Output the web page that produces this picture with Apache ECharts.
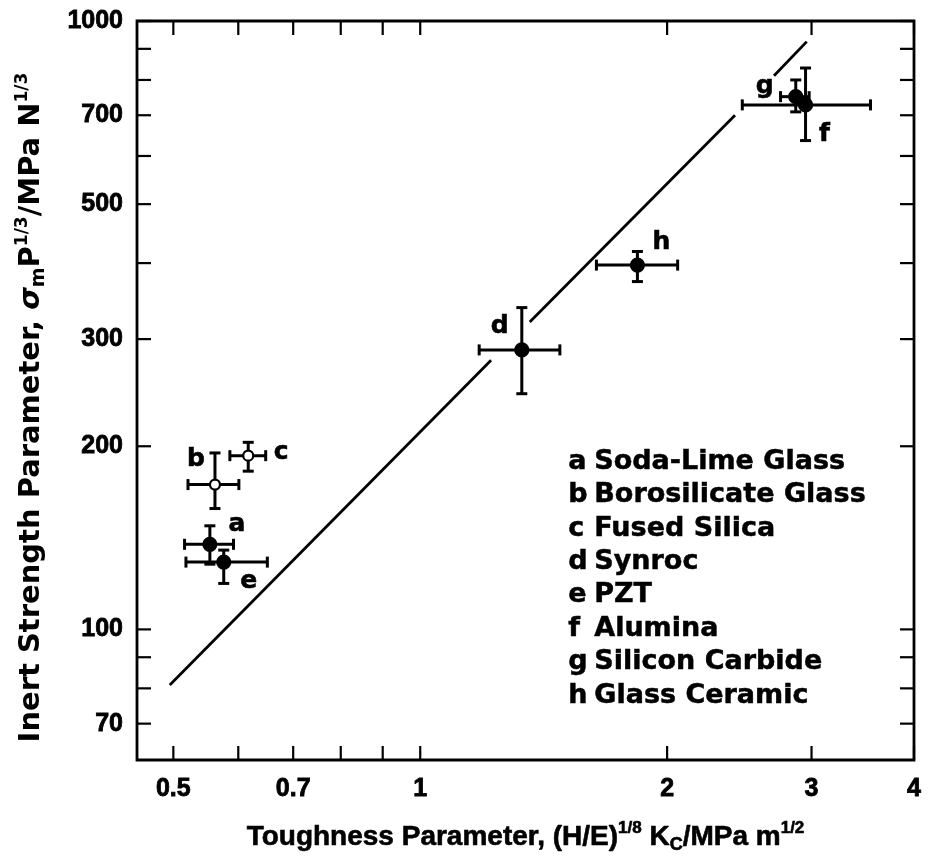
<!DOCTYPE html>
<html><head><meta charset="utf-8">
<script src="https://cdn.jsdelivr.net/npm/echarts@6/dist/echarts.min.js"></script>
<style>html,body{margin:0;padding:0;background:#fff}#c{width:930px;height:860px}</style>
</head><body><div id="c"></div>
<script>
// ---- data ----
const pointLetters = ['a','b','c','d','e','f','g','h'];
const materials = ['Soda-Lime Glass','Borosilicate Glass','Fused Silica','Synroc','PZT','Alumina','Silicon Carbide','Glass Ceramic'];
const toughness     = [0.554, 0.562, 0.617, 1.33, 0.576, 2.95, 2.87, 1.84];
const toughnessLow  = [0.516, 0.521, 0.586, 1.18, 0.518, 2.47, 2.75, 1.64];
const toughnessHigh = [0.592, 0.601, 0.648, 1.48, 0.651, 3.54, 2.98, 2.06];
const strength      = [138, 173, 193, 288, 129, 728, 751, 397];
const strengthLow   = [128, 158, 182, 244, 119, 636, 709, 373];
const strengthHigh  = [148, 195, 203, 338, 135, 837, 800, 418];
const openSymbol    = [false, true, true, false, false, false, false, false];
const fitSegments = [
  [[0.495, 81], [1.22, 277]],
  [[1.36, 320], [2.42, 700]],
  [[2.70, 813], [2.96, 925]]
];
const xTickValues = [0.5, 0.6, 0.7, 0.8, 0.9, 1, 2, 3, 4];
const xTickLabels = ['0.5', '', '0.7', '', '', '1', '2', '3', '4'];
const yTickValues = [70, 80, 90, 100, 200, 300, 400, 500, 600, 700, 800, 900, 1000];
const yTickLabels = ['70', '', '', '100', '200', '300', '', '500', '', '700', '', '', '1000'];

// ---- layout / style ----
const X_MIN = 0.4515, X_MAX = 4, Y_MIN = 61, Y_MAX = 1000;
const FONT = '"Liberation Sans", Arial, Helvetica, sans-serif';
const WIDE = '"DejaVu Sans", "Liberation Sans", sans-serif';
const labelOffsets = [[27,-20],[-19,-25],[33,-3],[-22,-23],[25,19],[19,30],[-31,-10],[24,-23]];
const TICK = 14, LW = 3;

const chart = echarts.init(document.getElementById('c'), null, {renderer: 'canvas'});

const errData = toughness.map((t, i) => [t, strength[i], toughnessLow[i], toughnessHigh[i], strengthLow[i], strengthHigh[i]]);

function renderErr(params, api) {
  const i = params.dataIndex;
  const x = api.value(0), y = api.value(1);
  const c = api.coord([x, y]);
  const xl = api.coord([api.value(2), y]);
  const xh = api.coord([api.value(3), y]);
  const yl = api.coord([x, api.value(4)]);
  const yh = api.coord([x, api.value(5)]);
  const cap = 5.5;
  const st = {stroke: '#000', lineWidth: LW};
  const ln = (x1, y1, x2, y2) => ({type: 'line', shape: {x1, y1, x2, y2}, style: st});
  const children = [
    ln(xl[0], c[1], xh[0], c[1]),
    ln(c[0], yl[1], c[0], yh[1]),
    ln(xl[0], c[1] - cap, xl[0], c[1] + cap),
    ln(xh[0], c[1] - cap, xh[0], c[1] + cap),
    ln(c[0] - cap, yl[1], c[0] + cap, yl[1]),
    ln(c[0] - cap, yh[1], c[0] + cap, yh[1]),
    {type: 'circle', shape: {cx: c[0], cy: c[1], r: openSymbol[i] ? 5 : 6.5},
     style: {fill: openSymbol[i] ? '#fff' : '#000', stroke: '#000', lineWidth: 2.2}},
    {type: 'text', style: {text: pointLetters[i], x: c[0] + labelOffsets[i][0], y: c[1] + labelOffsets[i][1],
      align: 'center', verticalAlign: 'middle', fontFamily: WIDE, fontWeight: 'bold', fontSize: 25, fill: '#000',
      stroke: '#000', lineWidth: 0.6}}
  ];
  return {type: 'group', children};
}

function renderXTick(params, api) {
  const v = api.value(0);
  const b = api.coord([v, Y_MIN]);
  const t = api.coord([v, Y_MAX]);
  const st = {stroke: '#000', lineWidth: 2.2};
  const lab = xTickLabels[params.dataIndex];
  return {type: 'group', children: [
    {type: 'line', shape: {x1: b[0], y1: b[1], x2: b[0], y2: b[1] - TICK}, style: st},
    {type: 'line', shape: {x1: t[0], y1: t[1], x2: t[0], y2: t[1] + TICK}, style: st},
    {type: 'text', style: {text: lab, x: b[0], y: b[1] + 29, align: 'center', verticalAlign: 'middle',
      fontFamily: FONT, fontWeight: 'bold', fontSize: 25, fill: '#000', stroke: '#000', lineWidth: 0.8}}
  ]};
}

function renderYTick(params, api) {
  const v = api.value(1);
  const l = api.coord([X_MIN, v]);
  const r = api.coord([X_MAX, v]);
  const st = {stroke: '#000', lineWidth: 2.2};
  const lab = yTickLabels[params.dataIndex];
  return {type: 'group', children: [
    {type: 'line', shape: {x1: l[0], y1: l[1], x2: l[0] + TICK, y2: l[1]}, style: st},
    {type: 'line', shape: {x1: r[0], y1: r[1], x2: r[0] - TICK, y2: r[1]}, style: st},
    {type: 'text', style: {text: lab, x: l[0] - 14, y: l[1], align: 'right', verticalAlign: 'middle',
      fontFamily: FONT, fontWeight: 'bold', fontSize: 25, fill: '#000', stroke: '#000', lineWidth: 0.8}}
  ]};
}

function richSet(family, size, border) {
  const common = {fontFamily: family, fontWeight: 'bold', color: '#000', textBorderColor: '#000', textBorderWidth: border};
  return {
    t:   Object.assign({}, common, {fontSize: size, lineHeight: size + 6}),
    it:  Object.assign({}, common, {fontStyle: 'italic', fontSize: size, lineHeight: size + 6}),
    sup: Object.assign({}, common, {fontSize: Math.round(size * 0.6), lineHeight: Math.round(size * 0.7), verticalAlign: 'top'}),
    sub: Object.assign({}, common, {fontSize: Math.round(size * 0.66), lineHeight: Math.round(size * 0.7), verticalAlign: 'bottom'})
  };
}

const legendGraphics = [];
materials.forEach((m, i) => {
  const y = 464 + i * 33.4;
  legendGraphics.push({type: 'text', left: 568, top: y - 16, style: {text: pointLetters[i], fontFamily: WIDE, fontWeight: 'bold', fontSize: 27, fill: '#000', stroke: '#000', lineWidth: 0.5}});
  legendGraphics.push({type: 'text', left: 594, top: y - 16, style: {text: m, fontFamily: WIDE, fontWeight: 'bold', fontSize: 27, fill: '#000', stroke: '#000', lineWidth: 0.5}});
});

const option = {
  animation: false,
  backgroundColor: '#fff',
  grid: {left: 137, top: 21, width: 777, height: 739, show: true, borderColor: '#000', borderWidth: 2.8,
         backgroundColor: 'transparent', outerBoundsMode: 'none', containLabel: false},
  xAxis: {
    type: 'log', logBase: 10, min: X_MIN, max: X_MAX,
    axisLine: {show: false}, axisTick: {show: false}, axisLabel: {show: false}, splitLine: {show: false},
    name: '{t|Toughness Parameter, (H/E)}{sup|1/8}{t| K}{sub|C}{t|/MPa m}{sup|1/2}',
    nameLocation: 'middle', nameGap: 60,
    nameTextStyle: {rich: richSet(FONT, 28, 0.6)}
  },
  yAxis: {
    type: 'log', logBase: 10, min: Y_MIN, max: Y_MAX,
    axisLine: {show: false}, axisTick: {show: false}, axisLabel: {show: false}, splitLine: {show: false},
    name: '{t|Inert Strength Parameter, }{it|σ}{sub|m}{t|P}{sup|1/3}{t|/MPa N}{sup|1/3}',
    nameLocation: 'middle', nameGap: 88, nameRotate: 90,
    nameTextStyle: {rich: richSet(WIDE, 29, 0), padding: [0, 34, 0, 0]}
  },
  graphic: legendGraphics,
  series: [
    ...fitSegments.map(seg => ({
      type: 'line', data: seg, symbol: 'none', silent: true,
      lineStyle: {color: '#000', width: 2.8}
    })),
    {type: 'custom', renderItem: renderErr, data: errData, encode: {x: 0, y: 1}, clip: false, z: 5},
    {type: 'custom', renderItem: renderXTick, data: xTickValues.map(v => [v, Y_MIN]), encode: {x: 0, y: 1}, clip: false, z: 6},
    {type: 'custom', renderItem: renderYTick, data: yTickValues.map(v => [X_MIN, v]), encode: {x: 0, y: 1}, clip: false, z: 6}
  ]
};
chart.setOption(option);
</script>
</body></html>
